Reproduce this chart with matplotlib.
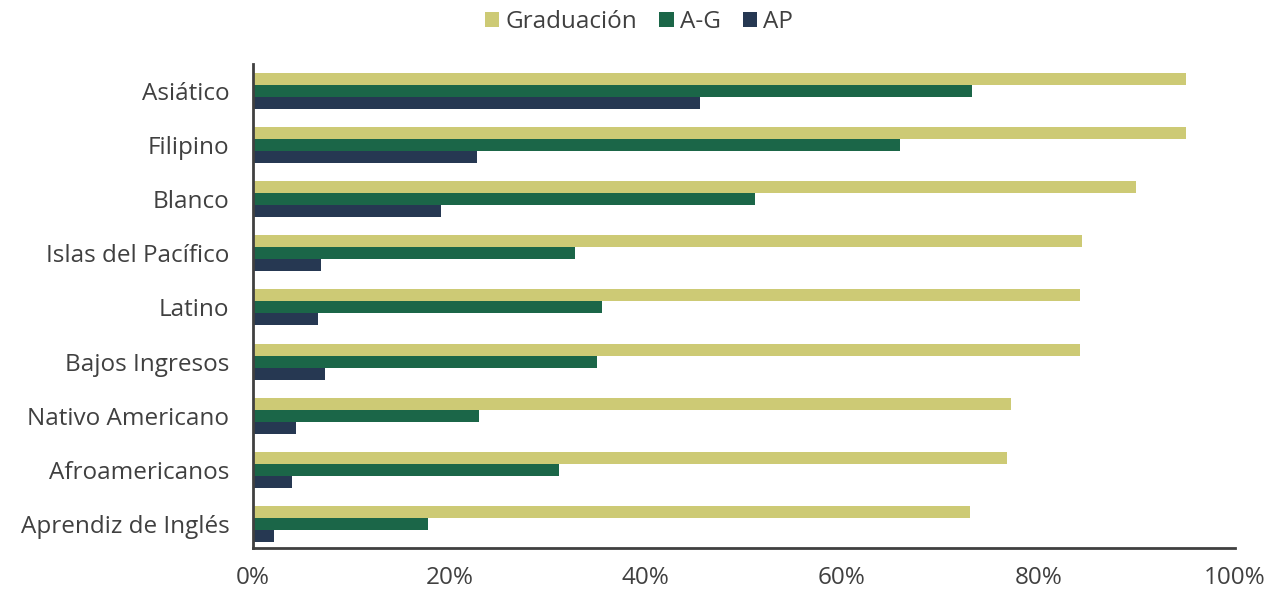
import numpy as np
import matplotlib.pyplot as plt
from matplotlib.ticker import FuncFormatter

plt.rcParams['font.family'] = ['Open Sans', 'DejaVu Sans']

groups = ["Asiático", "Filipino", "Blanco", "Islas del Pacífico", "Latino",
          "Bajos Ingresos", "Nativo Americano", "Afroamericanos", "Aprendiz de Inglés"]
graduacion = [95.1, 95.1, 90.0, 84.5, 84.3, 84.3, 77.2, 76.8, 73.0]
a_g = [73.3, 65.9, 51.1, 32.8, 35.6, 35.0, 23.0, 31.2, 17.8]
ap = [45.5, 22.8, 19.1, 6.9, 6.6, 7.3, 4.4, 4.0, 2.1]

series = [("Graduación", graduacion, "#cdca75"),
          ("A-G", a_g, "#1b6648"),
          ("AP", ap, "#263852")]

fig = plt.figure(figsize=(12.78, 5.96), dpi=100)
ax = fig.add_axes([0.198, 0.080, 0.768, 0.813])

y = np.arange(len(groups))
h = 0.222
for i, (name, vals, col) in enumerate(series):
    ax.barh(y + (i - 1) * h, vals, height=h, color=col, label=name)

ax.set_yticks(y)
ax.set_yticklabels(groups)
ax.set_ylim(len(groups) - 0.55, -0.5)
ax.set_xlim(0, 100)
ax.set_xticks(np.arange(0, 101, 20))
ax.xaxis.set_major_formatter(FuncFormatter(lambda v, p: f"{v:.0f}%"))
ax.tick_params(length=0, labelsize=17.5, labelcolor="#404040")
ax.tick_params(axis='x', pad=13)
ax.tick_params(axis='y', pad=17)

for s in ("top", "right"):
    ax.spines[s].set_visible(False)
for s in ("left", "bottom"):
    ax.spines[s].set_color("#404040")
    ax.spines[s].set_linewidth(2)

fig.legend(loc="upper center", bbox_to_anchor=(0.5, 1.02), ncol=3, frameon=False,
           fontsize=17.5, labelcolor="#404040", handlelength=0.6, handleheight=0.6,
           handletextpad=0.25, columnspacing=0.9)

fig.savefig("out.png")
